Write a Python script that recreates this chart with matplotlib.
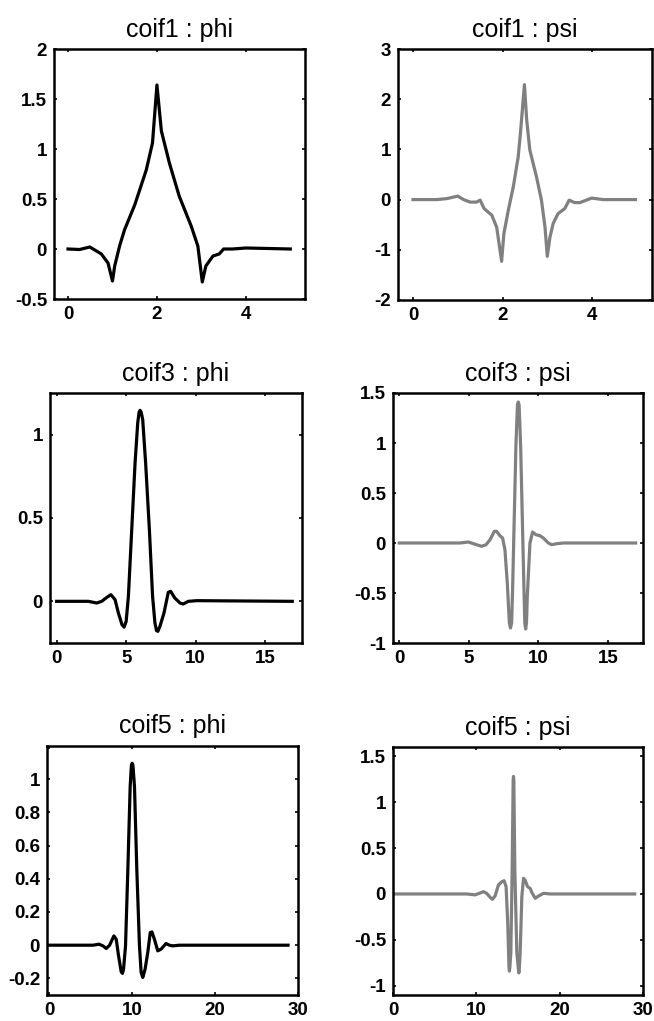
import matplotlib
matplotlib.use("Agg")
import matplotlib.pyplot as plt

plt.rcParams['font.family'] = ['Liberation Sans', 'DejaVu Sans']

# ---- data ----
coif1_phi_x = [0, 0.26, 0.49, 0.64, 0.75, 0.9, 1.0, 1.05, 1.16, 1.27, 1.5, 1.76, 1.9, 2.0,
               2.1, 2.28, 2.5, 2.77, 2.92, 3.02, 3.1, 3.26, 3.4, 3.5, 3.7, 4.0, 5.0]
coif1_phi_y = [0, -0.005, 0.02, -0.02, -0.05, -0.14, -0.32, -0.17, 0.03, 0.19, 0.44, 0.79, 1.06, 1.64,
               1.18, 0.86, 0.53, 0.23, 0.03, -0.33, -0.17, -0.07, -0.05, 0, 0, 0.01, 0]

coif1_psi_x = [0, 0.53, 0.76, 1.0, 1.13, 1.28, 1.42, 1.5, 1.59, 1.76, 1.87, 1.98, 2.03, 2.13, 2.24,
               2.35, 2.4, 2.49, 2.54, 2.61, 2.76, 2.87, 2.95, 3.0, 3.06, 3.13, 3.24, 3.39, 3.49,
               3.61, 3.73, 3.99, 4.25, 4.97]
coif1_psi_y = [0, 0, 0.02, 0.07, 0.0, -0.05, -0.05, -0.01, -0.18, -0.31, -0.55, -1.23, -0.68, -0.21, 0.25,
               0.85, 1.32, 2.29, 1.59, 0.99, 0.45, -0.01, -0.55, -1.13, -0.75, -0.48, -0.28, -0.18, -0.01,
               -0.06, -0.06, 0.03, 0, 0]

coif3_phi_x = [0, 2.28, 2.88, 3.24, 3.55, 3.9, 4.2, 4.44, 4.7, 4.85, 5.0, 5.16, 5.4, 5.64, 5.83, 5.93, 6.0,
               6.08, 6.19, 6.4, 6.67, 6.9, 7.07, 7.18, 7.28, 7.43, 7.72, 8.03, 8.2, 8.5, 8.87, 9.1, 9.47,
               10.07, 16.95]
coif3_phi_y = [0, 0, -0.01, 0, 0.02, 0.04, 0.01, -0.07, -0.14, -0.155, -0.12, 0.03, 0.43, 0.83, 1.07, 1.135, 1.146,
               1.135, 1.09, 0.83, 0.43, 0.03, -0.13, -0.175, -0.18, -0.15, -0.07, 0.054, 0.06, 0.02, -0.01, -0.016, 0,
               0.004, 0]

coif3_psi_x = [0, 4.37, 4.97, 5.56, 5.92, 6.24, 6.53, 6.84, 7.0, 7.24, 7.43, 7.6, 7.77, 7.92, 8.0, 8.08,
               8.15, 8.25, 8.39, 8.5, 8.56, 8.62, 8.73, 8.87, 8.97, 9.03, 9.09, 9.15, 9.21, 9.4, 9.59,
               9.83, 10.12, 10.36, 10.72, 10.96, 11.32, 11.8, 17.0]
coif3_psi_y = [0, 0, 0.01, -0.017, -0.033, -0.017, 0.033, 0.117, 0.117, 0.073, 0.05, -0.067, -0.4, -0.8, -0.85, -0.8,
               -0.47, 0.13, 0.97, 1.38, 1.41, 1.38, 0.97, 0.13, -0.47, -0.8, -0.86, -0.8, -0.53, 0, 0.11,
               0.083, 0.073, 0.05, 0, -0.017, -0.007, 0, 0]

coif5_phi_x = [0, 5.3, 6.03, 6.5, 6.9, 7.3, 7.82, 8.1, 8.38, 8.7, 8.85, 8.98, 9.22, 9.5, 9.78, 9.93, 10.02,
               10.11, 10.3, 10.58, 10.9, 11.1, 11.3, 11.58, 11.9, 12.2, 12.4, 12.7, 13.1, 13.5, 14.1,
               14.5, 14.9, 15.7, 28.8]
coif5_phi_y = [0, 0, 0.006, -0.004, -0.02, 0, 0.056, 0.036, -0.064, -0.16, -0.17, -0.144, -0.004, 0.456, 0.956, 1.085, 1.096,
               1.085, 0.956, 0.456, -0.004, -0.164, -0.194, -0.144, -0.044, 0.076, 0.08, 0.036, -0.034, -0.024, 0.01,
               0, -0.004, 0, 0]

coif5_psi_x = [0, 8.84, 9.84, 10.36, 10.84, 11.24, 11.65, 11.93, 12.25, 12.65, 13.05, 13.33, 13.57, 13.77,
               13.92, 13.97, 14.02, 14.14, 14.3, 14.42, 14.46, 14.5, 14.62, 14.86, 15.05, 15.1, 15.15,
               15.26, 15.46, 15.66, 15.86, 16.14, 16.47, 16.67, 17.07, 17.47, 18.07, 18.88, 29.0]
coif5_psi_y = [0, 0, -0.01, 0.007, 0.025, 0.007, -0.036, -0.058, -0.022, 0.097, 0.133, 0.144, 0.08, -0.32,
               -0.8, -0.84, -0.8, -0.64, 0.26, 1.24, 1.28, 1.24, 0.26, -0.64, -0.82, -0.86, -0.82,
               -0.64, -0.03, 0.17, 0.15, 0.08, 0.06, 0.014, -0.047, -0.022, 0.007, 0, 0]

titles = ["coif1 : phi", "coif1 : psi", "coif3 : phi", "coif3 : psi", "coif5 : phi", "coif5 : psi"]
series = [(coif1_phi_x, coif1_phi_y), (coif1_psi_x, coif1_psi_y),
          (coif3_phi_x, coif3_phi_y), (coif3_psi_x, coif3_psi_y),
          (coif5_phi_x, coif5_phi_y), (coif5_psi_x, coif5_psi_y)]
xticks = [[0, 2, 4], [0, 2, 4], [0, 5, 10, 15], [0, 5, 10, 15], [0, 10, 20, 30], [0, 10, 20, 30]]
yticks = [[-0.5, 0, 0.5, 1, 1.5, 2], [-2, -1, 0, 1, 2, 3], [0, 0.5, 1],
          [-1, -0.5, 0, 0.5, 1, 1.5], [-0.2, 0, 0.2, 0.4, 0.6, 0.8, 1], [-1, -0.5, 0, 0.5, 1, 1.5]]
yticklabels = [["-0.5", "0", "0.5", "1", "1.5", "2"], ["-2", "-1", "0", "1", "2", "3"], ["0", "0.5", "1"],
               ["-1", "-0.5", "0", "0.5", "1", "1.5"], ["-0.2", "0", "0.2", "0.4", "0.6", "0.8", "1"],
               ["-1", "-0.5", "0", "0.5", "1", "1.5"]]
xlims = [(-0.315, 5.33), (-0.335, 5.34), (-0.48, 17.65), (-0.45, 17.53), (-0.24, 30), (0, 30)]
ylims = [(-0.5, 2), (-2, 3), (-0.25, 1.25), (-1, 1.5), (-0.3, 1.2), (-1.1, 1.6)]
colors = ["black", "#808080", "black", "#808080", "black", "#808080"]

W, H = 654, 1021
boxes_px = [(54, 305, 49, 299), (398, 652, 49, 300), (50, 302, 393, 643),
            (393, 643, 393, 643), (47, 298, 746, 995), (393, 643, 747, 995)]

fig = plt.figure(figsize=(W / 100, H / 100), dpi=100)
for i in range(6):
    l, r, t, b = boxes_px[i]
    ax = fig.add_axes([l / W, 1 - b / H, (r - l) / W, (b - t) / H])
    x, y = series[i]
    ax.plot(x, y, color=colors[i], lw=2.3, solid_joinstyle='round')
    ax.set_xlim(*xlims[i])
    ax.set_ylim(*ylims[i])
    ax.set_xticks(xticks[i])
    ax.set_xticklabels([str(v) for v in xticks[i]])
    ax.set_yticks(yticks[i])
    ax.set_yticklabels(yticklabels[i])
    ax.tick_params(direction='in', length=2.5, width=1.2, top=True, right=True,
                   labelsize=13.5, pad=5)
    for lab in ax.get_xticklabels() + ax.get_yticklabels():
        lab.set_fontweight('bold')
    for s in ax.spines.values():
        s.set_linewidth(1.8)
    ax.set_title(titles[i], fontsize=18, pad=9)

fig.savefig("out.png", dpi=100)
